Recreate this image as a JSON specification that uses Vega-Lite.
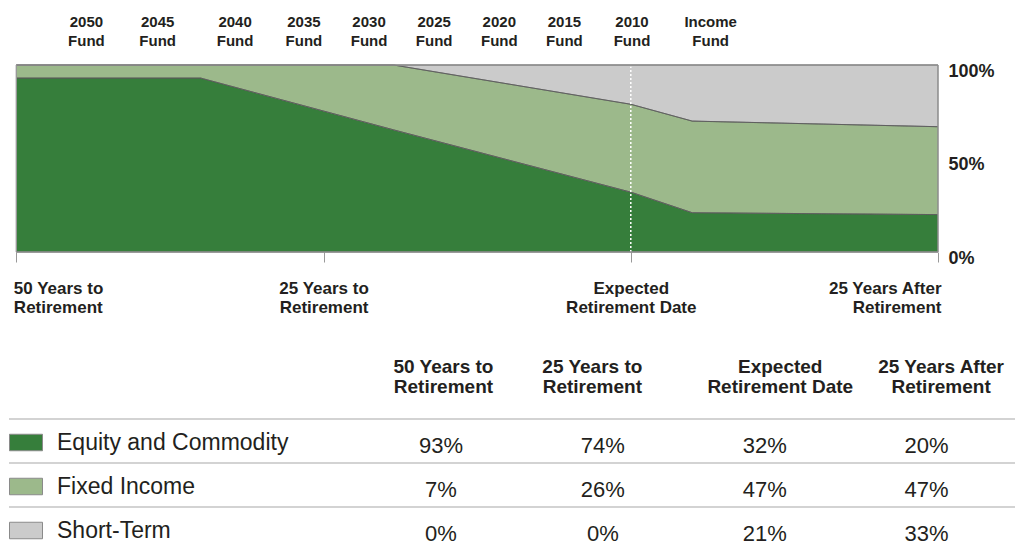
{
  "$schema": "https://vega.github.io/schema/vega-lite/v6.json",
  "padding": {"left": 8, "top": 14, "right": 0, "bottom": 0},
  "background": "white",
  "config": {
    "view": {"stroke": null},
    "font": "Liberation Sans, Arial, sans-serif",
    "text": {"font": "Liberation Sans, Arial, sans-serif"},
    "axis": {"labelFont": "Liberation Sans, Arial, sans-serif"},
    "legend": {"labelFont": "Liberation Sans, Arial, sans-serif"}
  },
  "datasets": {
    "glide": [
      {"year": -50, "asset": "Equity and Commodity", "pct": 93},
      {"year": -50, "asset": "Fixed Income", "pct": 7},
      {"year": -50, "asset": "Short-Term", "pct": 0},
      {"year": -35, "asset": "Equity and Commodity", "pct": 93},
      {"year": -35, "asset": "Fixed Income", "pct": 7},
      {"year": -35, "asset": "Short-Term", "pct": 0},
      {"year": -19.3, "asset": "Equity and Commodity", "pct": 65.3},
      {"year": -19.3, "asset": "Fixed Income", "pct": 34.7},
      {"year": -19.3, "asset": "Short-Term", "pct": 0},
      {"year": 0, "asset": "Equity and Commodity", "pct": 32},
      {"year": 0, "asset": "Fixed Income", "pct": 47},
      {"year": 0, "asset": "Short-Term", "pct": 21},
      {"year": 5, "asset": "Equity and Commodity", "pct": 21},
      {"year": 5, "asset": "Fixed Income", "pct": 49},
      {"year": 5, "asset": "Short-Term", "pct": 30},
      {"year": 25, "asset": "Equity and Commodity", "pct": 20},
      {"year": 25, "asset": "Fixed Income", "pct": 47},
      {"year": 25, "asset": "Short-Term", "pct": 33}
    ],
    "funds": [
      {"fund": "2050 Fund", "year": -44.3},
      {"fund": "2045 Fund", "year": -38.5},
      {"fund": "2040 Fund", "year": -32.2},
      {"fund": "2035 Fund", "year": -26.6},
      {"fund": "2030 Fund", "year": -21.3},
      {"fund": "2025 Fund", "year": -16.0},
      {"fund": "2020 Fund", "year": -10.7},
      {"fund": "2015 Fund", "year": -5.4},
      {"fund": "2010 Fund", "year": 0.1},
      {"fund": "Income Fund", "year": 6.5}
    ],
    "table": [
      {"asset": "Equity and Commodity", "col": "50 Years to Retirement", "years": -50, "value": 0.93},
      {"asset": "Equity and Commodity", "col": "25 Years to Retirement", "years": -25, "value": 0.74},
      {"asset": "Equity and Commodity", "col": "Expected Retirement Date", "years": 0, "value": 0.32},
      {"asset": "Equity and Commodity", "col": "25 Years After Retirement", "years": 25, "value": 0.20},
      {"asset": "Fixed Income", "col": "50 Years to Retirement", "years": -50, "value": 0.07},
      {"asset": "Fixed Income", "col": "25 Years to Retirement", "years": -25, "value": 0.26},
      {"asset": "Fixed Income", "col": "Expected Retirement Date", "years": 0, "value": 0.47},
      {"asset": "Fixed Income", "col": "25 Years After Retirement", "years": 25, "value": 0.47},
      {"asset": "Short-Term", "col": "50 Years to Retirement", "years": -50, "value": 0.0},
      {"asset": "Short-Term", "col": "25 Years to Retirement", "years": -25, "value": 0.0},
      {"asset": "Short-Term", "col": "Expected Retirement Date", "years": 0, "value": 0.21},
      {"asset": "Short-Term", "col": "25 Years After Retirement", "years": 25, "value": 0.33}
    ]
  },
  "spacing": 42,
  "vconcat": [
    {
      "width": 929,
      "height": 187,
      "layer": [
        {
          "data": {"name": "glide"},
          "mark": {"type": "area", "opacity": 1, "interpolate": "linear"},
          "encoding": {
            "x": {
              "field": "year", "type": "quantitative", "title": null,
              "scale": {"domain": [-50.6, 25], "nice": false, "zero": false},
              "axis": {
                "values": [-50, -25, 0, 25],
                "labelExpr": "datum.value == -50 ? ['50 Years to', 'Retirement'] : datum.value == -25 ? ['25 Years to', 'Retirement'] : datum.value == 0 ? ['Expected', 'Retirement Date'] : ['25 Years After', 'Retirement']",
                "domain": false, "grid": false,
                "ticks": true, "tickColor": "#999999", "tickSize": 10, "tickWidth": 1,
                "labelFontSize": 17, "labelFontWeight": "bold", "labelColor": "#231f20",
                "labelPadding": 18, "labelLineHeight": 19,
                "labelOverlap": false, "labelFlush": 9, "labelFlushOffset": 3, "labelBound": false,
                "title": null
              }
            },
            "y": {
              "field": "pct", "type": "quantitative", "stack": "zero", "title": null,
              "scale": {"domain": [0, 100], "nice": false},
              "axis": {
                "orient": "right", "values": [0, 50, 100],
                "labelExpr": "datum.value + '%'",
                "ticks": false, "domain": false, "grid": false,
                "labelFontSize": 18, "labelFontWeight": "bold", "labelColor": "#231f20",
                "labelPadding": 10, "labelOffset": 6, "title": null
              }
            },
            "color": {
              "field": "asset", "type": "nominal",
              "scale": {
                "domain": ["Equity and Commodity", "Fixed Income", "Short-Term"],
                "range": ["#367E3B", "#9CB98B", "#CBCBCB"]
              },
              "legend": {
                "orient": "none", "legendX": 0, "legendY": 360.5,
                "title": null, "direction": "vertical", "padding": 0,
                "symbolType": "M-1,-0.5H1V0.5H-1Z", "symbolSize": 1089,
                "symbolStrokeColor": "#8a8a8a", "symbolStrokeWidth": 1, "symbolOpacity": 1,
                "labelFontSize": 23, "labelColor": "#231f20", "labelOffset": 14,
                "rowPadding": 15, "labelLimit": 400
              }
            },
            "order": {"field": "asset", "sort": "ascending"}
          }
        },
        {
          "data": {"name": "glide"},
          "mark": {"type": "area", "fillOpacity": 0, "stroke": "#5a5a5a", "strokeWidth": 0.8, "interpolate": "linear"},
          "encoding": {
            "x": {"field": "year", "type": "quantitative", "title": null},
            "y": {"field": "pct", "type": "quantitative", "stack": "zero", "title": null},
            "detail": {"field": "asset", "type": "nominal"},
            "order": {"field": "asset", "sort": "ascending"}
          }
        },
        {
          "data": {"values": [{"year": 0}]},
          "mark": {"type": "rule", "color": "white", "strokeDash": [2, 2], "strokeWidth": 1.5},
          "encoding": {
            "x": {"field": "year", "type": "quantitative", "title": null},
            "y": {"datum": 0, "title": null},
            "y2": {"datum": 99}
          }
        },
        {
          "data": {"values": [{"year": -50}, {"year": 25}]},
          "mark": {"type": "rule", "color": "#9a9a9a", "strokeWidth": 1.2},
          "encoding": {
            "x": {"field": "year", "type": "quantitative", "title": null},
            "y": {"datum": 0, "title": null},
            "y2": {"datum": 100}
          }
        },
        {
          "data": {"values": [{"level": 0}, {"level": 100}]},
          "mark": {"type": "rule", "color": "#8f8f8f", "strokeWidth": 1.5},
          "encoding": {
            "y": {"field": "level", "type": "quantitative", "title": null},
            "x": {"datum": -50, "title": null},
            "x2": {"datum": 25}
          }
        },
        {
          "data": {"name": "funds"},
          "mark": {
            "type": "text", "baseline": "alphabetic", "align": "center", "dy": -38.3,
            "fontSize": 15, "fontWeight": "bold", "lineBreak": " ", "lineHeight": 19,
            "color": "#231f20"
          },
          "encoding": {
            "x": {"field": "year", "type": "quantitative", "title": null},
            "y": {"datum": 100, "title": null},
            "text": {"field": "fund", "type": "nominal"}
          }
        }
      ]
    },
    {
      "width": 1007,
      "height": 132,
      "data": {"name": "table"},
      "layer": [
        {
          "transform": [{"filter": "datum.years == -50"}],
          "mark": {"type": "rule", "color": "#c4c4c4", "strokeWidth": 1.5},
          "encoding": {
            "y": {
              "field": "asset", "type": "nominal", "bandPosition": 0, "title": null,
              "scale": {"domain": ["Equity and Commodity", "Fixed Income", "Short-Term"], "paddingInner": 0, "paddingOuter": 0},
              "axis": null
            }
          }
        },
        {
          "mark": {"type": "text", "fontSize": 22, "color": "#231f20", "baseline": "middle", "dy": 5},
          "encoding": {
            "x": {
              "field": "years", "type": "quantitative", "title": null,
              "scale": {"domain": [-116.7, 38.8], "nice": false, "zero": false},
              "axis": {
                "orient": "top", "values": [-50, -25, 0, 25],
                "domain": false, "ticks": false, "tickSize": 0, "grid": false,
                "labelExpr": "datum.value == -50 ? ['50 Years to', 'Retirement'] : datum.value == -25 ? ['25 Years to', 'Retirement'] : datum.value == 0 ? ['Expected', 'Retirement Date'] : ['25 Years After', 'Retirement']",
                "labelFontSize": 19, "labelFontWeight": "bold", "labelColor": "#231f20",
                "labelPadding": 43, "labelLineHeight": 20, "labelAngle": 0,
                "labelOverlap": false, "labelFlush": false, "labelBound": false, "title": null,
                "labelOffset": {"condition": [
                  {"test": "datum.value == -25", "value": -11},
                  {"test": "datum.value == 0", "value": 15},
                  {"test": "datum.value == 25", "value": 14}
                ], "value": 2}
              }
            },
            "y": {"field": "asset", "type": "nominal", "title": null, "axis": null},
            "text": {"field": "value", "type": "quantitative", "format": ".0%"}
          }
        }
      ]
    }
  ]
}
